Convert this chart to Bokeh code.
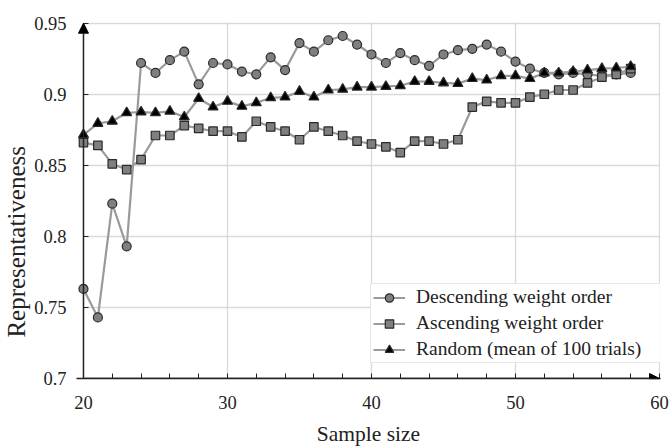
import math
from bokeh.plotting import figure
from bokeh.layouts import row
from bokeh.models import (FixedTicker, Arrow, NormalHead, Legend, LegendItem,
                          Range1d, BoxAnnotation, Label, LinearAxis)
from bokeh.embed import file_html
from bokeh.resources import INLINE

# ---- data ----
sample_size = list(range(20, 59))
descending = [0.763, 0.743, 0.823, 0.793, 0.922, 0.915, 0.924, 0.930, 0.907, 0.922,
              0.921, 0.916, 0.914, 0.926, 0.917, 0.936, 0.930, 0.938, 0.941, 0.935,
              0.928, 0.922, 0.929, 0.924, 0.920, 0.928, 0.931, 0.932, 0.935, 0.930,
              0.923, 0.918, 0.915, 0.914, 0.915, 0.914, 0.913, 0.914, 0.915]
ascending = [0.866, 0.864, 0.851, 0.847, 0.854, 0.871, 0.871, 0.878, 0.876, 0.874,
             0.874, 0.870, 0.881, 0.877, 0.874, 0.868, 0.877, 0.874, 0.871, 0.867,
             0.865, 0.863, 0.859, 0.867, 0.867, 0.865, 0.868, 0.891, 0.895, 0.894,
             0.894, 0.898, 0.900, 0.903, 0.903, 0.908, 0.912, 0.914, 0.918]
random_mean = [0.8715, 0.8795, 0.881, 0.887, 0.8875, 0.887, 0.888, 0.884, 0.897, 0.891,
               0.895, 0.8915, 0.894, 0.8975, 0.898, 0.902, 0.898, 0.903, 0.9035, 0.905,
               0.905, 0.9055, 0.906, 0.909, 0.909, 0.908, 0.9075, 0.911, 0.910, 0.913,
               0.913, 0.911, 0.915, 0.915, 0.916, 0.917, 0.918, 0.9185, 0.9195]
series_names = ["Descending weight order", "Ascending weight order",
                "Random (mean of 100 trials)"]
x_ticks = [20, 30, 40, 50, 60]
x_minor = [22, 24, 26, 28, 32, 34, 36, 38, 42, 44, 46, 48, 52, 54, 56, 58]
y_ticks = [0.7, 0.75, 0.8, 0.85, 0.9, 0.95]
y_tick_labels = ["0.7", "0.75", "0.8", "0.85", "0.9", "0.95"]
x_title = "Sample size"
y_title = "Representativeness"

FONT = "Liberation Serif"
INK = "#222222"
H = 448
STRIP_W = 31

# ---- narrow strip holding the vertical axis title ----
t = figure(width=STRIP_W, height=H, output_backend="svg", toolbar_location=None,
           x_range=Range1d(0, STRIP_W), y_range=Range1d(0, H), min_border=0)
t.axis.visible = False
t.grid.visible = False
t.outline_line_color = None
t.add_layout(Label(x=16, y=172, text=y_title, angle=math.pi / 2,
                   text_align="center", text_baseline="middle", text_font=FONT,
                   text_font_size="25px", text_color=INK))

# ---- main chart ----
p = figure(width=671 - STRIP_W, height=H, output_backend="svg", toolbar_location=None,
           x_range=Range1d(19.5156, 60.07), y_range=Range1d(0.7, 0.9505),
           min_border_left=74 - STRIP_W, min_border_right=11, min_border_top=22,
           min_border_bottom=63)
p.outline_line_color = None
p.background_fill_color = "white"

# grids
p.xgrid.ticker = FixedTicker(ticks=x_ticks)
p.ygrid.ticker = FixedTicker(ticks=y_ticks)
for g in (p.xgrid, p.ygrid):
    g.grid_line_color = "#d9d9d9"
    g.grid_line_width = 1.3

# hide grid stubs left of x=20
p.add_layout(BoxAnnotation(right=20, fill_color="white", fill_alpha=1,
                           line_alpha=0, level="underlay"))

# x axis
xa = p.xaxis[0]
xa.ticker = FixedTicker(ticks=x_ticks, minor_ticks=x_minor)
xa.axis_line_color = INK
xa.axis_line_width = 1.5
xa.major_tick_in = 5
xa.major_tick_out = 0
xa.minor_tick_in = 5
xa.minor_tick_out = 0
xa.major_tick_line_color = INK
xa.minor_tick_line_color = INK
xa.major_label_text_font = FONT
xa.major_label_text_font_size = "18.5px"
xa.major_label_text_color = INK
xa.major_label_standoff = 17
xa.axis_label = x_title
xa.axis_label_text_font = FONT
xa.axis_label_text_font_size = "21.5px"
xa.axis_label_text_font_style = "normal"
xa.axis_label_text_color = INK
xa.axis_label_standoff = 10

# y axis: labels only (at frame edge)
ya = p.yaxis[0]
ya.ticker = FixedTicker(ticks=y_ticks)
ya.major_label_overrides = {t_: l for t_, l in zip(y_ticks, y_tick_labels)}
ya.axis_line_color = None
ya.major_tick_line_color = None
ya.minor_tick_line_color = None
ya.major_tick_in = 0
ya.major_tick_out = 0
ya.minor_tick_in = 0
ya.minor_tick_out = 0
ya.major_label_text_font = FONT
ya.major_label_text_font_size = "18.5px"
ya.major_label_text_color = INK
ya.major_label_standoff = 10

# y axis ticks at x = 20 (no labels drawn)
ytick_axis = LinearAxis(fixed_location=20, ticker=FixedTicker(ticks=y_ticks),
                        axis_line_color=None, major_tick_in=0, major_tick_out=5,
                        minor_tick_in=0, minor_tick_out=0,
                        major_tick_line_color=INK, major_label_text_font_size="1px",
                        major_label_text_color=None, major_label_standoff=0)
p.add_layout(ytick_axis, "right")

# axis arrows
p.add_layout(Arrow(end=NormalHead(size=10, fill_color="black", line_color="black"),
                   x_start=20, y_start=0.7, x_end=60, y_end=0.7,
                   line_color=INK, line_width=1.5))
p.add_layout(Arrow(end=NormalHead(size=10, fill_color="black", line_color="black"),
                   x_start=20, y_start=0.7, x_end=20, y_end=0.95,
                   line_color=INK, line_width=1.5))

line_color = "#9a9a9a"
items = []
specs = [
    (descending, "circle", "#7f7f7f", 9),
    (ascending, "square", "#7f7f7f", 8.5),
    (random_mean, "triangle", "black", 10),
]
for (vals, marker, fill, size), name in zip(specs, series_names):
    lr = p.line(sample_size, vals, line_color=line_color, line_width=2.2)
    sr = p.scatter(sample_size, vals, marker=marker, size=size, fill_color=fill,
                   line_color="#2a2a2a", line_width=1.2)
    items.append(LegendItem(label=name, renderers=[lr, sr]))

legend = Legend(items=items, location=(294, 15))
legend.label_text_font = FONT
legend.label_text_font_size = "19.5px"
legend.label_text_color = INK
legend.border_line_color = "#cfcfcf"
legend.border_line_width = 1.2
legend.background_fill_color = "white"
legend.background_fill_alpha = 1
legend.glyph_width = 32
legend.glyph_height = 21
legend.label_height = 21
legend.label_width = 244
legend.label_standoff = 11
legend.spacing = 4
legend.padding = 2
legend.margin = 0
p.add_layout(legend, "center")

layout = row(t, p)
open("out.html", "w").write(file_html(layout, INLINE))
